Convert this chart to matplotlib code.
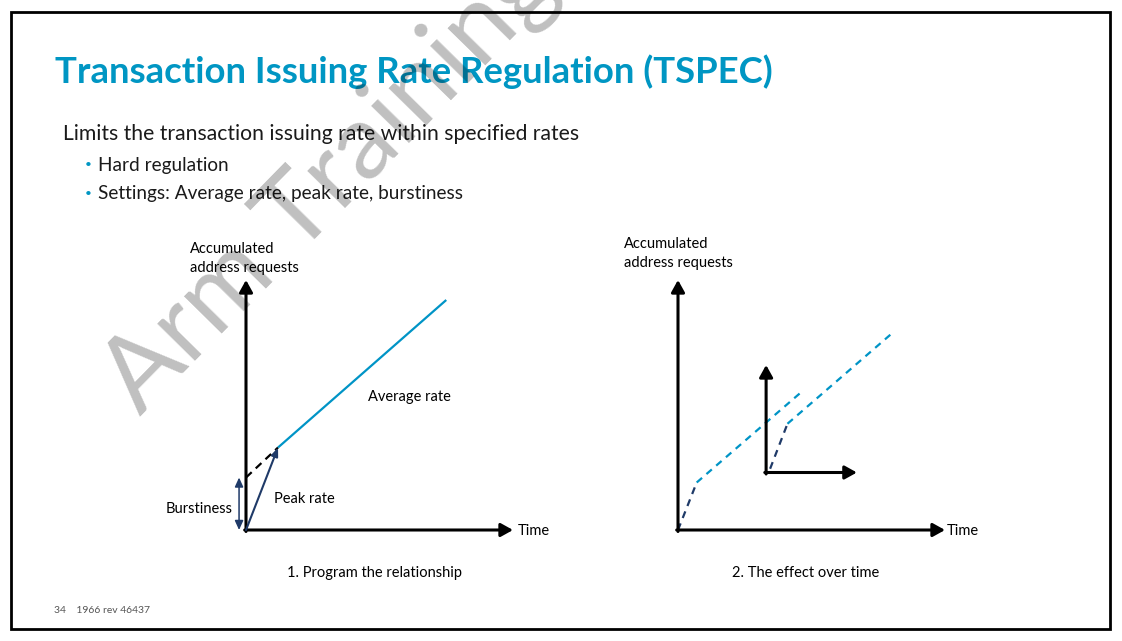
import matplotlib.pyplot as plt
from matplotlib.patches import Rectangle

W, H = 1122, 641
FONT = 'Lato'
BLUE = '#0096C3'
TEAL = '#0094C6'
NAVY = '#1F3A68'

title = "Transaction Issuing Rate Regulation (TSPEC)"
lead = "Limits the transaction issuing rate within specified rates"
bullets = ["Hard regulation", "Settings: Average rate, peak rate, burstiness"]
y_label = ["Accumulated", "address requests"]
captions = ["1. Program the relationship", "2. The effect over time"]
footer = "34    1966 rev 46437"
watermark = "Arm Training"

# diagram 1, units of (time, requests), axes run 0..10
burst = 2.1
peak_pt = (1.2, 3.3)
avg_end = (7.5, 9.2)

# diagram 2: the same shaping seen in two windows
win1_t = [0, 0.7, 4.6]
win1_r = [0, 1.9, 5.5]
inner_origin = (3.3, 2.3)
inner_tip = (6.7, 6.6)
win2_t = [3.45, 4.1, 8.05]
win2_r = [2.45, 4.25, 7.9]

AX_LEN = 10

fig = plt.figure(figsize=(W / 100, H / 100), dpi=100)
renderer = fig.canvas.get_renderer()


def px(x, y):
    return x / W, 1 - y / H


def fit(t, width):
    w = t.get_window_extent(renderer).width
    t.set_fontsize(t.get_fontsize() * width / w)


def arrow(ax, start, end, color='black', lw=2.2, style='-|>,head_length=0.9,head_width=0.5', ms=8):
    ax.annotate('', xy=end, xytext=start, annotation_clip=False,
                arrowprops=dict(arrowstyle=style, lw=lw, color=color,
                                shrinkA=0, shrinkB=0, mutation_scale=ms))


# slide frame
bg = fig.add_axes([0, 0, 1, 1])
bg.set_xlim(0, W)
bg.set_ylim(H, 0)
bg.axis('off')
bg.add_patch(Rectangle((11, 12), 1099, 617, fill=False, lw=2.0, ec='black'))

t = fig.text(*px(55, 83), title, family=FONT, weight='bold', color=BLUE, fontsize=28)
fit(t, 720)
t = fig.text(*px(63, 140), lead, family=FONT, color='#1a1a1a', fontsize=15)
fit(t, 515)

b_texts = []
for i, b in enumerate(bullets):
    y = 170.5 + i * 28.5
    fig.text(*px(88, y - 2.5), '•', family=FONT, color=BLUE, fontsize=8.5, ha='center')
    b_texts.append(fig.text(*px(98.5, y), b, family=FONT, color='#1a1a1a', fontsize=13))
fit(b_texts[1], 364)
for bt in b_texts:
    bt.set_fontsize(b_texts[1].get_fontsize())

t = fig.text(*px(54, 613), footer, family=FONT, color='#555555', fontsize=7)
fit(t, 97)

# diagram axes, 267 x 250 px each
ax1 = fig.add_axes([246 / W, (H - 530) / H, 267 / W, 250 / H])
ax2 = fig.add_axes([678 / W, (H - 530) / H, 267 / W, 250 / H])
for ax in (ax1, ax2):
    ax.set_xlim(0, AX_LEN)
    ax.set_ylim(0, AX_LEN)
    ax.axis('off')
    arrow(ax, (-0.05, 0), (AX_LEN, 0))
    arrow(ax, (0, -0.06), (0, AX_LEN))

# 1. program the relationship
ax1.plot([0, peak_pt[0]], [burst, peak_pt[1]], color='black', lw=1.6,
         ls=(0, (3.5, 2.5)), clip_on=False)
arrow(ax1, (0, 0), peak_pt, color=NAVY, lw=1.5,
      style='-|>,head_length=0.5,head_width=0.2', ms=10)
ax1.plot([peak_pt[0], avg_end[0]], [peak_pt[1], avg_end[1]], color=TEAL, lw=1.6,
         solid_capstyle='butt', clip_on=False)
arrow(ax1, (-0.26, 0), (-0.26, burst), color=NAVY, lw=1.1,
      style='<|-|>,head_length=0.55,head_width=0.25', ms=10)

# 2. the effect over time
for ts, rs in ((win1_t, win1_r), (win2_t, win2_r)):
    ax2.plot(ts[:2], rs[:2], color=NAVY, lw=1.6, ls=(0, (3.2, 2.6)), clip_on=False)
    ax2.plot(ts[1:], rs[1:], color=TEAL, lw=1.6, ls=(0, (3.2, 2.6)), clip_on=False)
arrow(ax2, (inner_origin[0] - 0.05, inner_origin[1]), (inner_tip[0], inner_origin[1]))
arrow(ax2, (inner_origin[0], inner_origin[1] - 0.06), (inner_origin[0], inner_tip[1]))

lab = []
kw = dict(family=FONT, color='black', fontsize=10, va='baseline')
for ax, x0, ys in ((ax1, -2.10, (11.08, 10.32)), (ax2, -2.02, (11.28, 10.52))):
    for s, y in zip(y_label, ys):
        lab.append(ax.text(x0, y, s, **kw))
fit(lab[0], 84)
fs = lab[0].get_fontsize()
for tl in lab:
    tl.set_fontsize(fs)
kw['fontsize'] = fs

ax1.text(10.19, -0.2, 'Time', **kw)
ax2.text(10.07, -0.2, 'Time', **kw)
ax1.text(-0.49, 0.68, 'Burstiness', ha='right', **kw)
ax1.text(1.05, 1.08, 'Peak rate', **kw)
ax1.text(4.57, 5.16, 'Average rate', **kw)
ax1.text(4.83, -1.88, captions[0], ha='center', **kw)
ax2.text(4.78, -1.88, captions[1], ha='center', **kw)

# watermark drawn on top of everything
wm = fig.text(*px(140, 417), watermark, family=FONT, color='black', alpha=0.25,
              fontsize=70, ha='left', va='baseline', rotation_mode='anchor', zorder=10)
fit(wm, 600)
wm.set_rotation(45.5)

fig.savefig('out.png', dpi=100)
